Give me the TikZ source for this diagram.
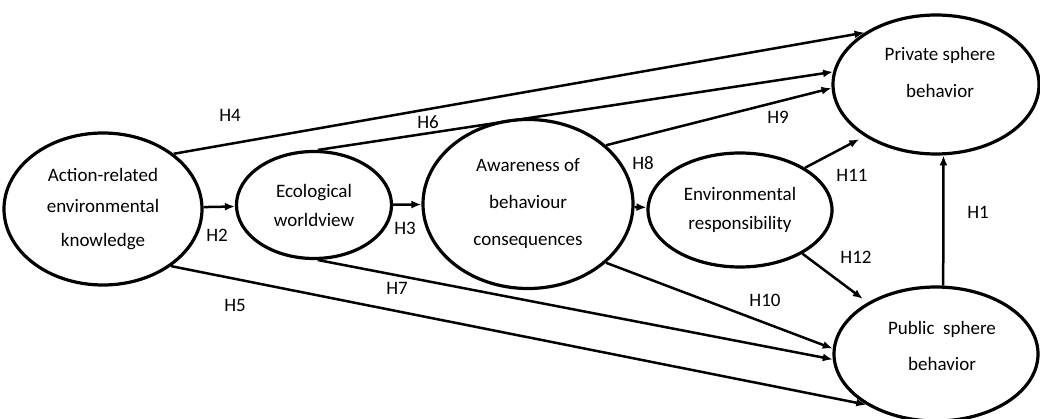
\documentclass[tikz,border=0pt]{standalone}
\usepackage{fontspec}
\setmainfont{Carlito}
\usetikzlibrary{shapes.geometric,arrows.meta}

\begin{document}
\begin{tikzpicture}[x=1pt,y=-1pt,
	every node/.style={font=\fontsize{19}{29}\selectfont},
	var/.style={ellipse,draw=black,line width=3.2pt,inner sep=0pt,align=center},
	txt/.style={align=center,inner sep=0pt},
	hypline/.style={line width=2.5pt,-{Latex[length=10pt,width=8pt]}}]

		\useasboundingbox (0,0) rectangle (1040,419);

		%left ellipses
		\node[var,minimum width=198,minimum height=152] (act) at (103,209) {Action-related\\[2pt]environmental\\[5pt]knowledge};
		\node[var,minimum width=155,minimum height=107] (eco) at (314,205) {Ecological\\worldview};
		\node[var,minimum width=210,minimum height=169] (awa) at (528,204) {Awareness of\\[8pt]behaviour\\[8pt]consequences};
		\node[var,minimum width=184,minimum height=114] (env) at (740,210) {Environmental\\responsibility};

		%right ellipses
		\node[var,minimum width=206,minimum height=139] (pri) at (936,84.5) {};
		\node[txt] (pri-t) at (940,72) {Private sphere\\[8pt]behavior};
		\node[var,minimum width=204,minimum height=134] (pub) at (936,354) {};
		\node[txt] (pub-t) at (942,346) {Public~ sphere\\[7pt]behavior};

		%arrows
		\draw[hypline] (act) -- (eco);
		\draw[hypline] (eco) -- (awa);
		\draw[hypline] (awa) -- (env);
		\draw[hypline] (pub.84) -- (pri.-84);
		\draw[hypline] (act.38.7) -- (pri.144.6);
		\draw[hypline] (act.-40.5) -- (pub.216);
		\draw[hypline] (eco.86.8) -- (pri.173.1);
		\draw[hypline] (eco.-86.8) -- (pub.183.2);
		\draw[hypline] (awa.37.7) -- (pri.182);
		\draw[hypline] (awa.-37.9) -- (pub.177.4);
		\draw[hypline,shorten >=6pt] (env.33.5) -- (pri.216);
		\draw[hypline,shorten >=6pt] (env.-35.6) -- (pub.143.6);

		%labels
		\node[txt] (h1) at (978,212) {H1};
		\node[txt] (h2) at (217,235) {H2};
		\node[txt] (h3) at (405,228) {H3};
		\node[txt] (h4) at (230,115) {H4};
		\node[txt] (h5) at (235,305) {H5};
		\node[txt] (h6) at (428,122) {H6};
		\node[txt] (h7) at (397,288) {H7};
		\node[txt] (h8) at (643,163) {H8};
		\node[txt] (h9) at (778,117) {H9};
		\node[txt] (h10) at (765,300) {H10};
		\node[txt] (h11) at (852,175) {H11};
		\node[txt] (h12) at (856,257) {H12};

\end{tikzpicture}
\end{document}
